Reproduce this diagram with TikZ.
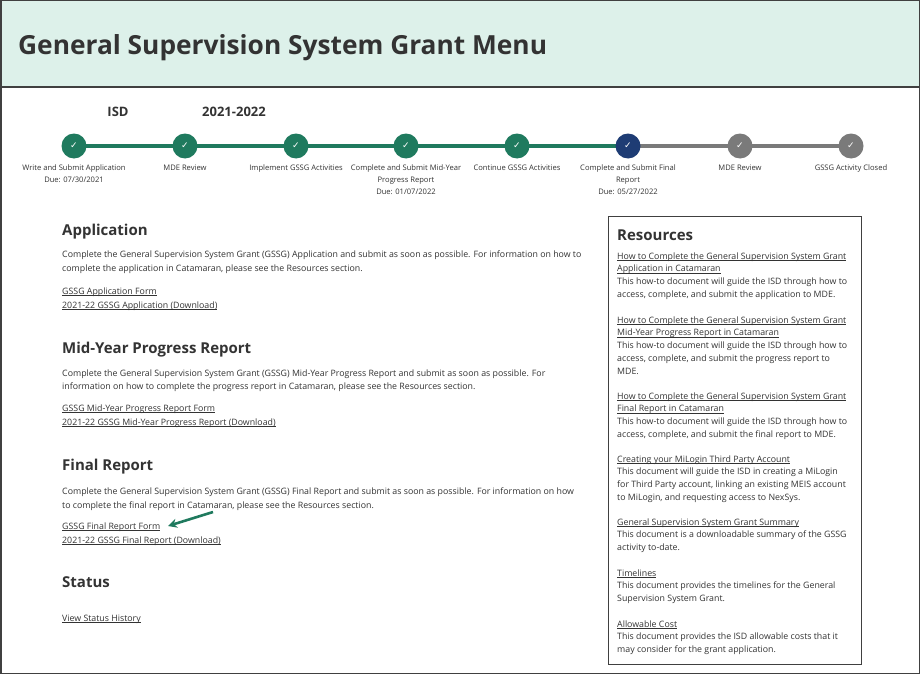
\documentclass[tikz,border=0pt]{standalone}
\usepackage{fontspec}
\usetikzlibrary{arrows.meta}
\setmainfont{Open Sans}
\newfontfamily\dv{DejaVu Sans}
\definecolor{hdr}{HTML}{DDF1EA}
\definecolor{tealc}{HTML}{1F7A5E}
\definecolor{navyc}{HTML}{1E3C74}
\definecolor{greyc}{HTML}{7A7A7A}
\definecolor{txt}{HTML}{333333}
\newcommand\lnk[1]{\underline{\smash{#1}}}
\begin{document}
\begin{tikzpicture}[x=1pt,y=-1pt,
  body/.style={anchor=base west,inner sep=0pt,font=\fontsize{8.8}{10}\selectfont,text=txt},
  head/.style={anchor=base west,inner sep=0pt,font=\fontsize{15}{17}\selectfont\bfseries,text=txt},
  stp/.style={anchor=north,inner sep=0pt,font=\fontsize{7.6}{12}\selectfont,text=txt,align=center},
  dot/.style={circle,minimum size=25pt,inner sep=0pt,fill=#1,text=white,font=\dv\fontsize{9}{9}\selectfont\bfseries}]
\useasboundingbox (0,0) rectangle (920,674);
\fill[white] (0,0) rectangle (920,674);
\fill[hdr] (0,0) rectangle (920,87);
\draw[line width=1.5pt,color=darkgray] (0,87) -- (920,87);
\draw[line width=1.5pt,color=darkgray] (0.75,0.75) rectangle (919.25,673.25);
\node[anchor=base west,inner sep=0pt,font=\fontsize{26.3}{28}\selectfont\bfseries,text=txt] (title) at (18,55) {General Supervision System Grant Menu};
\node[anchor=base,inner sep=0pt,font=\fontsize{13}{15}\selectfont\bfseries,text=txt] (isd) at (118,117) {ISD};
\node[anchor=base,inner sep=0pt,font=\fontsize{13}{15}\selectfont\bfseries,text=txt] (yr) at (234,117) {2021-2022};
% progress
\foreach \i/\x in {1/74,2/185,3/296,4/406,5/517,6/628,7/740,8/851}{\coordinate (p\i) at (\x,146);}
\draw[tealc,line width=3.5pt] (p1) -- (p6);
\draw[greyc,line width=3.5pt] (p6) -- (p8);
\foreach \i in {1,...,5}{\node[dot=tealc] (c\i) at (p\i) {✓};}
\node[dot=navyc] (c6) at (p6) {✓};
\node[dot=greyc] (c7) at (p7) {✓};
\node[dot=greyc] (c8) at (p8) {✓};
\node[stp] (s1) at (74,165) {Write and Submit Application\\Due: 07/30/2021};
\node[stp] (s2) at (185,165) {MDE Review};
\node[stp] (s3) at (296,165) {Implement GSSG Activities};
\node[stp] (s4) at (406,165) {Complete and Submit Mid-Year\\Progress Report\\Due: 01/07/2022};
\node[stp] (s5) at (517,165) {Continue GSSG Activities};
\node[stp] (s6) at (628,165) {Complete and Submit Final\\Report\\Due: 05/27/2022};
\node[stp] (s7) at (740,165) {MDE Review};
\node[stp] (s8) at (851,165) {GSSG Activity Closed};
% left column
\node[head] (h1) at (62,235) {Application};
\node[body] (b1a) at (62,257) {Complete the General Supervision System Grant (GSSG) Application and submit as soon as possible. For information on how to};
\node[body] (b1b) at (62,271) {complete the application in Catamaran, please see the Resources section.};
\node[body] (l1a) at (62,294) {\lnk{GSSG Application Form}};
\node[body] (l1b) at (62,308) {\lnk{2021-22 GSSG Application (Download)}};
\node[head] (h2) at (62,353) {Mid-Year Progress Report};
\node[body] (b2a) at (62,376) {Complete the General Supervision System Grant (GSSG) Mid-Year Progress Report and submit as soon as possible. For};
\node[body] (b2b) at (62,389) {information on how to complete the progress report in Catamaran, please see the Resources section.};
\node[body] (l2a) at (62,411) {\lnk{GSSG Mid-Year Progress Report Form}};
\node[body] (l2b) at (62,425) {\lnk{2021-22 GSSG Mid-Year Progress Report (Download)}};
\node[head] (h3) at (62,470) {Final Report};
\node[body] (b3a) at (62,494) {Complete the General Supervision System Grant (GSSG) Final Report and submit as soon as possible. For information on how};
\node[body] (b3b) at (62,508) {to complete the final report in Catamaran, please see the Resources section.};
\node[body] (l3a) at (62,529) {\lnk{GSSG Final Report Form}};
\node[body] (l3b) at (62,543) {\lnk{2021-22 GSSG Final Report (Download)}};
\coordinate (arrS) at (213,512);
\coordinate (arrE) at (168,526);
\draw[tealc,line width=2.6pt,-{Stealth[length=9pt,width=9pt]}] (arrS) -- (arrE);
\node[head] (h4) at (62,587) {Status};
\node[body] (l4) at (62,621) {\lnk{View Status History}};
% resources
\draw[darkgray,line width=0.8pt] (608,216) rectangle (861,664);
\node[head] (rh) at (617,240) {Resources};
\foreach \t [count=\k] in {
 {\lnk{How to Complete the General Supervision System Grant}},
 {\lnk{Application in Catamaran}},
 {This how-to document will guide the ISD through how to},
 {access, complete, and submit the application to MDE.}}
 {\node[body] (ra\k) at (617,259+12.9*\k-12.9) {\t};}
\foreach \t [count=\k] in {
 {\lnk{How to Complete the General Supervision System Grant}},
 {\lnk{Mid-Year Progress Report in Catamaran}},
 {This how-to document will guide the ISD through how to},
 {access, complete, and submit the progress report to},
 {MDE.}}
 {\node[body] (rb\k) at (617,323+12.9*\k-12.9) {\t};}
\foreach \t [count=\k] in {
 {\lnk{How to Complete the General Supervision System Grant}},
 {\lnk{Final Report in Catamaran}},
 {This how-to document will guide the ISD through how to},
 {access, complete, and submit the final report to MDE.}}
 {\node[body] (rc\k) at (617,399+12.9*\k-12.9) {\t};}
\foreach \t [count=\k] in {
 {\lnk{Creating your MiLogin Third Party Account}},
 {This document will guide the ISD in creating a MiLogin},
 {for Third Party account, linking an existing MEIS account},
 {to MiLogin, and requesting access to NexSys.}}
 {\node[body] (rd\k) at (617,462+12.9*\k-12.9) {\t};}
\foreach \t [count=\k] in {
 {\lnk{General Supervision System Grant Summary}},
 {This document is a downloadable summary of the GSSG},
 {activity to-date.}}
 {\node[body] (re\k) at (617,525+12.9*\k-12.9) {\t};}
\foreach \t [count=\k] in {
 {\lnk{Timelines}},
 {This document provides the timelines for the General},
 {Supervision System Grant.}}
 {\node[body] (rf\k) at (617,576+12.9*\k-12.9) {\t};}
\foreach \t [count=\k] in {
 {\lnk{Allowable Cost}},
 {This document provides the ISD allowable costs that it},
 {may consider for the grant application.}}
 {\node[body] (rg\k) at (617,627+12.9*\k-12.9) {\t};}
\end{tikzpicture}
\end{document}
